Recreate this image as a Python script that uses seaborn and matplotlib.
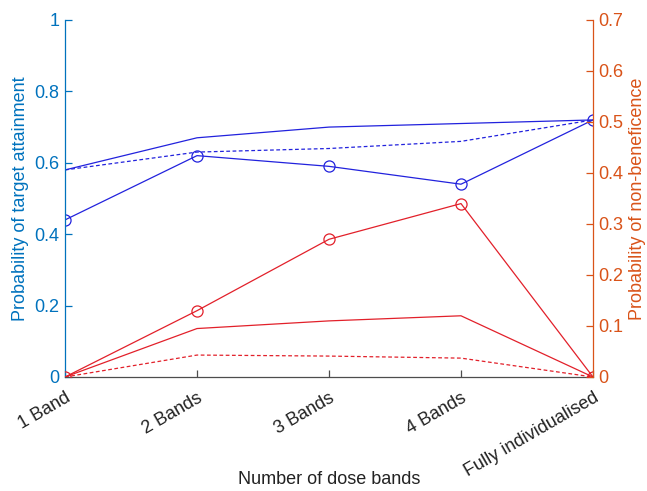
import matplotlib
matplotlib.use("Agg")
import matplotlib.pyplot as plt
import seaborn as sns
import pandas as pd

categories = ["1 Band", "2 Bands", "3 Bands", "4 Bands", "Fully individualised"]

# Probability of target attainment (left axis)
pta_observed = [0.44, 0.62, 0.59, 0.54, 0.72]
pta_upper = [0.58, 0.67, 0.70, 0.71, 0.72]
pta_lower = [0.58, 0.63, 0.64, 0.66, 0.72]

# Probability of non-beneficence (right axis)
nb_observed = [0.0, 0.13, 0.27, 0.34, 0.0]
nb_upper = [0.0, 0.095, 0.11, 0.12, 0.0]
nb_lower = [0.0, 0.043, 0.041, 0.037, 0.0]

BLUE = "#2222dd"
RED = "#e2202a"
LEFT_AXIS = "#0072BD"
RIGHT_AXIS = "#D95319"

sns.set_theme(style="white")
plt.rcParams["font.family"] = ["Liberation Sans", "DejaVu Sans"]

fig = plt.figure(figsize=(6.47, 4.91), dpi=100)
ax = fig.add_axes([0.1005, 0.2322, 0.8160, 0.7271])
ax2 = ax.twinx()

pos = list(range(len(categories)))

def draw(axis, values, color, style, marker):
    df = pd.DataFrame({"x": pos, "y": values})
    sns.lineplot(data=df, x="x", y="y", ax=axis, color=color, linestyle=style,
                 linewidth=0.9, marker=marker, markersize=8,
                 markerfacecolor="none", markeredgecolor=color,
                 markeredgewidth=0.9, dashes=False)

draw(ax, pta_observed, BLUE, "-", "o")
draw(ax, pta_upper, BLUE, "-", None)
draw(ax, pta_lower, BLUE, (0, (3, 2)), None)

draw(ax2, nb_observed, RED, "-", "o")
draw(ax2, nb_upper, RED, "-", None)
draw(ax2, nb_lower, RED, (0, (3, 2)), None)

for a in (ax, ax2):
    a.set_xlim(0, 4)
    for s in a.spines.values():
        s.set_visible(False)
    a.patch.set_visible(False)

ax.set_ylim(0, 1)
ax2.set_ylim(0, 0.7)

ax.spines["left"].set_visible(True)
ax.spines["left"].set_color(LEFT_AXIS)
ax.spines["bottom"].set_visible(True)
ax.spines["bottom"].set_color("#4d4d4d")
ax2.spines["right"].set_visible(True)
ax2.spines["right"].set_color(RIGHT_AXIS)
for s in (ax.spines["left"], ax.spines["bottom"], ax2.spines["right"]):
    s.set_linewidth(0.9)

ax.set_yticks([0, 0.2, 0.4, 0.6, 0.8, 1.0])
ax.set_yticklabels(["0", "0.2", "0.4", "0.6", "0.8", "1"])
ax2.set_yticks([0, 0.1, 0.2, 0.3, 0.4, 0.5, 0.6, 0.7])
ax2.set_yticklabels(["0", "0.1", "0.2", "0.3", "0.4", "0.5", "0.6", "0.7"])

ax.set_xticks(pos)
ax.set_xticklabels(categories, rotation=30, ha="right", rotation_mode="anchor")

ax.tick_params(axis="y", direction="in", length=5, width=0.9, colors=LEFT_AXIS,
               labelsize=13, left=True, pad=4)
ax.tick_params(axis="x", direction="in", length=5, width=0.9, color="#4d4d4d",
               labelcolor="#222222", labelsize=13, bottom=True, pad=9)
ax2.tick_params(axis="y", direction="in", length=5, width=0.9, colors=RIGHT_AXIS,
                labelsize=13, right=True, pad=4)

ax.set_xlabel("Number of dose bands", fontsize=13, color="#222222")
ax.xaxis.set_label_coords(0.5, -0.262)
ax.set_ylabel("Probability of target attainment", fontsize=13, color=LEFT_AXIS, labelpad=4)
ax2.set_ylabel("Probability of non-beneficence", fontsize=13, color=RIGHT_AXIS, labelpad=4)

fig.savefig("out.png", dpi=100)
